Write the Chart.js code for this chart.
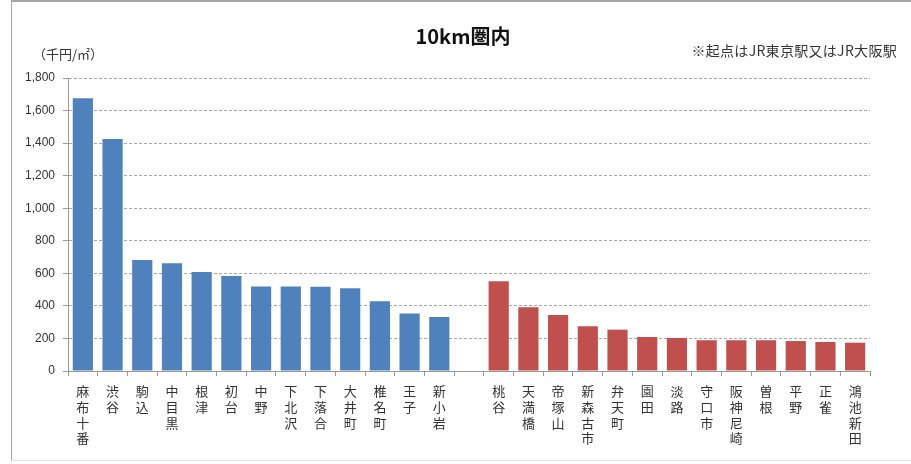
<!DOCTYPE html>
<html lang="ja">
<head>
<meta charset="utf-8">
<title>10km圏内</title>
<script src="https://cdn.jsdelivr.net/npm/chart.js@4"></script>
<style>
  html, body { margin: 0; padding: 0; background: #fff; }
  #wrap { position: relative; width: 911px; height: 464px; overflow: hidden; }
  #frame { position: absolute; left: 11px; top: 0; width: 910px; height: 461px;
           border-left: 1px solid #a6a6a6; border-top: 2px solid #a6a6a6; border-bottom: 1px solid #e6e6e6; box-sizing: border-box; }
  canvas { position: absolute; left: 0; top: 0; }
  .txt { position: absolute; white-space: nowrap; color: #222; font-family: "Noto Sans CJK JP", sans-serif; }
  #title { left: 0; width: 926px; text-align: center; top: 21px; font-size: 20px; font-weight: bold; color: #111; }
  #unit { left: 33px; top: 44px; font-size: 13px; color: #333; }
  #note { right: 14px; top: 40px; font-size: 14px; letter-spacing: 0.3px; color: #333; }
</style>
</head>
<body>
<div id="wrap">
  <div id="frame"></div>
  <canvas id="c" width="911" height="464"></canvas>
  <div class="txt" id="title">10km圏内</div>
  <div class="txt" id="unit">（千円/㎡）</div>
  <div class="txt" id="note">※起点はJR東京駅又はJR大阪駅</div>
</div>
<script>
// 東京側（JR東京駅から10km圏内）
const tokyoNames = ['麻布十番','渋谷','駒込','中目黒','根津','初台','中野','下北沢','下落合','大井町','椎名町','王子','新小岩'];
const tokyoValues = [1675, 1425, 682, 662, 608, 584, 519, 519, 518, 508, 428, 353, 332];

// 大阪側（JR大阪駅から10km圏内）
const osakaNames = ['桃谷','天満橋','帝塚山','新森古市','弁天町','園田','淡路','守口市','阪神尼崎','曽根','平野','正雀','鴻池新田'];
const osakaValues = [551, 391, 344, 275, 254, 209, 203, 189, 189, 189, 184, 178, 174];

// 縦軸目盛
const yTicks = [0, 200, 400, 600, 800, 1000, 1200, 1400, 1600, 1800];

// 東京と大阪の間に空の区分を一つ挟む
const names = [...tokyoNames, '', ...osakaNames];
const labels = names.map(n => n.split(''));
const gap = [null];
const tokyoSeries = [...tokyoValues, ...gap, ...osakaNames.map(() => null)];
const osakaSeries = [...tokyoNames.map(() => null), ...gap, ...osakaValues];

const axisColor = '#9a9a9a';

new Chart(document.getElementById('c'), {
  type: 'bar',
  data: {
    labels,
    datasets: [
      { label: '東京', data: tokyoSeries, backgroundColor: '#4f81bd', grouped: false,
        categoryPercentage: 1, barPercentage: 0.68 },
      { label: '大阪', data: osakaSeries, backgroundColor: '#c0504d', grouped: false,
        categoryPercentage: 1, barPercentage: 0.68 }
    ]
  },
  options: {
    responsive: false,
    animation: false,
    devicePixelRatio: 1,
    layout: { padding: { left: 0, right: 41, top: 78, bottom: 0 } },
    plugins: { legend: { display: false }, tooltip: { enabled: false }, title: { display: false } },
    scales: {
      x: {
        grid: { display: true, drawOnChartArea: false, offset: true, color: axisColor, tickLength: 5 },
        border: { display: true, color: axisColor, width: 1 },
        ticks: {
          autoSkip: false, maxRotation: 0, minRotation: 0, padding: 7, color: '#333',
          font: { family: '"Noto Sans CJK JP", sans-serif', size: 13, lineHeight: 1.22 }
        },
        afterFit: s => { s.height = 93; }
      },
      y: {
        min: 0, max: 1800,
        afterBuildTicks: s => { s.ticks = yTicks.map(v => ({ value: v })); },
        grid: {
          color: '#a8a8a8', lineWidth: 1, tickLength: 5, tickColor: axisColor,
          tickBorderDash: [0, 0]
        },
        // 目盛線は破線、軸線は実線
        border: { display: true, color: axisColor, width: 1, dash: [3, 2] },
        ticks: {
          padding: 8, color: '#333',
          font: { family: '"Liberation Sans", Arial, sans-serif', size: 12 },
          callback: v => v.toLocaleString('en-US')
        },
        afterFit: s => { s.width = 68; }
      }
    }
  }
});
</script>
</body>
</html>
